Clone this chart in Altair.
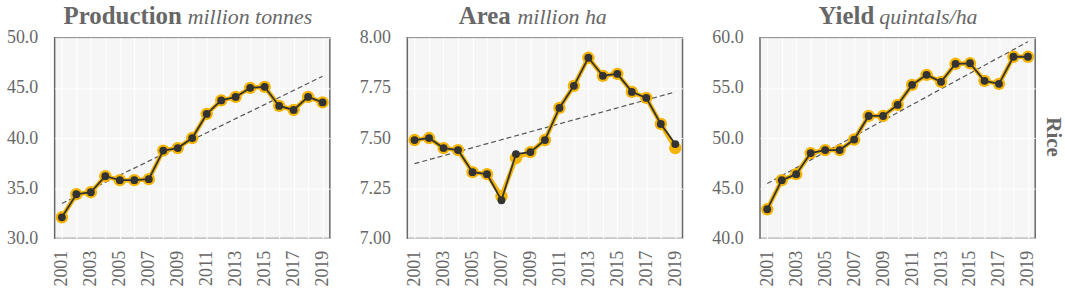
import altair as alt
import pandas as pd

years = list(range(2001, 2020))

prod_yellow = [32.1, 34.4, 34.6, 36.2, 35.8, 35.8, 35.9, 38.75, 39.0, 40.0,
               42.4, 43.75, 44.1, 45.0, 45.1, 43.2, 42.8, 44.1, 43.55]
prod_dark = [32.1, 34.4, 34.6, 36.2, 35.8, 35.8, 35.9, 38.75, 39.0, 40.0,
             42.4, 43.75, 44.1, 45.0, 45.1, 43.2, 42.8, 44.1, 43.55]

area_yellow = [7.49, 7.50, 7.45, 7.44, 7.33, 7.32, 7.21, 7.40, 7.43, 7.49,
               7.65, 7.76, 7.90, 7.81, 7.82, 7.73, 7.70, 7.57, 7.45]
area_dark = [7.49, 7.50, 7.45, 7.44, 7.33, 7.32, 7.19, 7.42, 7.43, 7.49,
             7.65, 7.76, 7.90, 7.81, 7.82, 7.73, 7.70, 7.57, 7.47]

yield_yellow = [42.9, 45.8, 46.4, 48.5, 48.8, 48.8, 49.85, 52.2, 52.2, 53.3,
                55.3, 56.3, 55.6, 57.4, 57.45, 55.7, 55.4, 58.1, 58.1]
yield_dark = [42.9, 45.8, 46.4, 48.5, 48.8, 48.8, 49.85, 52.2, 52.2, 53.3,
              55.3, 56.3, 55.6, 57.4, 57.45, 55.7, 55.4, 58.1, 58.1]

prod_ticks = [30, 32.5, 35, 37.5, 40, 42.5, 45, 47.5, 50]
area_ticks = [7.0, 7.125, 7.25, 7.375, 7.5, 7.625, 7.75, 7.875, 8.0]
yield_ticks = [40, 42.5, 45, 47.5, 50, 52.5, 55, 57.5, 60]

titles = [("Production", "million tonnes"), ("Area", "million ha"), ("Yield", "quintals/ha")]
facet_label = "Rice"

YELLOW = "#F4B400"
DARK = "#333333"
GRAY = "#676767"
FONT = "Liberation Serif"
W, H = 277, 202


def panel(yl, dk, domain, ticks, label_expr, bold, italic, bold_x, ital_x, extra=None):
    df = pd.DataFrame({"year": years, "yellow": yl, "dark": dk})
    x = alt.X("year:Q", title=None,
              scale=alt.Scale(domain=[2000.5, 2019.5], nice=False, zero=False),
              axis=alt.Axis(values=years, labelAngle=270, labelFlush=False, labelOverlap=False,
                            labelExpr="datum.value % 2 == 1 ? format(datum.value, 'd') : ''",
                            labelPadding=12))
    sc = alt.Scale(domain=domain, nice=False, zero=False)
    yax = alt.Axis(values=ticks, labelExpr=label_expr, labelPadding=17, minExtent=54, maxExtent=54,
                   labelOverlap=False, labelFlush=False)
    base = alt.Chart(df).encode(x=x)
    trend = base.transform_regression("year", "dark").mark_line(
        color="#555555", strokeDash=[5, 3], strokeWidth=1.2
    ).encode(y=alt.Y("dark:Q", scale=sc, axis=yax, title=None))
    yline = base.mark_line(color=YELLOW, strokeWidth=4.5).encode(y=alt.Y("yellow:Q", scale=sc, title=None))
    ypts = base.mark_circle(color=YELLOW, size=155, opacity=1).encode(y=alt.Y("yellow:Q", scale=sc, title=None))
    dline = base.mark_line(color=DARK, strokeWidth=1.8).encode(y=alt.Y("dark:Q", scale=sc, title=None))
    dpts = base.mark_circle(color=DARK, size=62, opacity=1).encode(y=alt.Y("dark:Q", scale=sc, title=None))
    t1 = alt.Chart(pd.DataFrame({"t": [bold]})).mark_text(
        font=FONT, fontSize=25, fontWeight="bold", color=GRAY, align="right", baseline="alphabetic"
    ).encode(x=alt.value(bold_x), y=alt.value(-14), text="t:N")
    t2 = alt.Chart(pd.DataFrame({"t": [italic]})).mark_text(
        font=FONT, fontSize=22, fontStyle="italic", color=GRAY, align="left", baseline="alphabetic"
    ).encode(x=alt.value(ital_x), y=alt.value(-14), text="t:N")
    layers = [trend, yline, ypts, dline, dpts, t1, t2]
    if extra is not None:
        layers.append(extra)
    return alt.layer(*layers).properties(width=W, height=H)


expr1 = "datum.value % 5 == 0 ? format(datum.value, '.1f') : ''"
expr2 = "abs(datum.value * 4 - round(datum.value * 4)) < 0.001 ? format(datum.value, '.2f') : ''"

rice = alt.Chart(pd.DataFrame({"t": [facet_label]})).mark_text(
    font=FONT, fontSize=21, fontWeight="bold", color=GRAY, angle=90, align="center", baseline="middle"
).encode(x=alt.value(295), y=alt.value(100), text="t:N")

p1 = panel(prod_yellow, prod_dark, [30, 50], prod_ticks, expr1, titles[0][0], titles[0][1], 128, 134)
p2 = panel(area_yellow, area_dark, [7.0, 8.0], area_ticks, expr2, titles[1][0], titles[1][1], 104, 111)
p3 = panel(yield_yellow, yield_dark, [40, 60], yield_ticks, expr1, titles[2][0], titles[2][1], 115, 120, rice)

chart = alt.hconcat(p1, p2, p3, spacing=20).properties(
    padding={"left": 0, "top": 2, "right": 0, "bottom": 0}
).configure_view(
    stroke=GRAY, strokeWidth=1.5, fill="#f6f6f6"
).configure_axis(
    grid=True, gridColor="#ffffff", gridWidth=1, gridOpacity=1,
    ticks=False, domain=False,
    labelFont=FONT, labelFontSize=18, labelColor=GRAY
)

chart.save("out.html", embed_options={"renderer": "svg", "actions": False})
